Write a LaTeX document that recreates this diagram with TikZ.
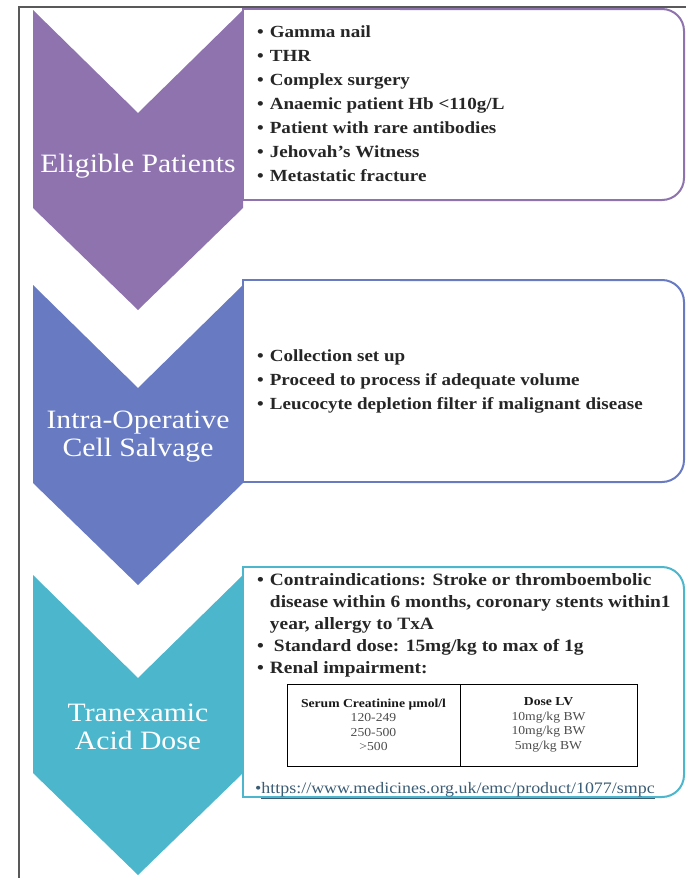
\documentclass[tikz,border=0pt]{standalone}
\usepackage{fontspec}
\setmainfont{Liberation Serif}[FakeStretch=1.12]
\definecolor{chevA}{HTML}{8E73AE}
\definecolor{chevB}{HTML}{677AC2}
\definecolor{chevC}{HTML}{4BB6CC}
\definecolor{inktext}{HTML}{262626}
\definecolor{linkcol}{HTML}{3A5C74}
\newcommand{\bul}{\textbullet}

\begin{document}
\begin{tikzpicture}[x=1pt,y=-1pt,
  chevlabel/.style={text=white,font=\fontsize{26.5}{28}\selectfont,align=center,inner sep=0pt},
  bullets/.style={text=inktext,font=\bfseries\fontsize{17}{24}\selectfont,inner sep=0pt},
  cell/.style={draw,line width=1pt,minimum height=82pt,align=center,
    text=black!70,font=\fontsize{12.2}{14.5}\selectfont}]
  \useasboundingbox (0,0) rectangle (686,878);
  \draw[black!65,line width=1.3pt] (19,878) -- (19,7) -- (686,7);

  \foreach \t/\b/\c in {9/200/chevA,280/482/chevB,567/797/chevC}{% box behind each chevron
    \draw[\c,line width=2pt] (400,\t) -- (243,\t) -- (243,\b) -- (400,\b);
    \draw[\c,line width=2pt,rounded corners=22pt] (400,\t) -- (684,\t) -- (684,\b) -- (400,\b);
  }
  \foreach \t/\c in {10/chevA,285/chevB,575/chevC}{
    \fill[\c] (33,\t) -- (138,\t+103) -- (243,\t) -- (243,\t+198) -- (138,\t+300) -- (33,\t+198) -- cycle;
  }

  \node[chevlabel,anchor=base] (elig) at (138,172) {Eligible Patients};
  \node[chevlabel] (salv) at (138,437) {Intra-Operative\\Cell Salvage};
  \node[chevlabel] (txa) at (138,727) {Tranexamic\\Acid Dose};

  \node[bullets,anchor=west] (eliglist) at (257,104.5) {%
    \begin{tabular}{@{}l@{\hspace{6pt}}l@{}}
      \bul & Gamma nail\\
      \bul & THR\\
      \bul & Complex surgery\\
      \bul & Anaemic patient Hb <110g/L\\
      \bul & Patient with rare antibodies\\
      \bul & Jehovah's Witness\\
      \bul & Metastatic fracture
    \end{tabular}};
  \node[bullets,anchor=west] (salvlist) at (257,381) {%
    \begin{tabular}{@{}l@{\hspace{6pt}}l@{}}
      \bul & Collection set up\\
      \bul & Proceed to process if adequate volume\\
      \bul & Leucocyte depletion filter if malignant disease
    \end{tabular}};
  \node[bullets,font=\bfseries\fontsize{17.3}{22}\selectfont,anchor=north west] (txalist) at (257,570) {%
    \begin{tabular}{@{}l@{\hspace{6pt}}l@{}}
      \bul & Contraindications: Stroke or thromboembolic\\
           & disease within 6 months, coronary stents within1\\
           & year, allergy to TxA\\
      \bul & \hspace{4pt}Standard dose: 15mg/kg to max of 1g\\
      \bul & Renal impairment:
    \end{tabular}};

  \node[cell,minimum width=173pt] (serum) at (373.5,725) {\textbf{\color{black!90}Serum Creatinine µmol/l}\\120-249\\250-500\\>500};
  \node[cell,minimum width=177pt] (dose) at (548.5,725) {\textbf{\color{black!90}Dose LV}\\10mg/kg BW\\10mg/kg BW\\5mg/kg BW};

  \node[anchor=base west,inner sep=0pt,text=linkcol,font=\fontsize{16}{18}\selectfont] (link) at (255,793)
    {\bul\underline{https://www.medicines.org.uk/emc/product/1077/smpc}};
\end{tikzpicture}
\end{document}
